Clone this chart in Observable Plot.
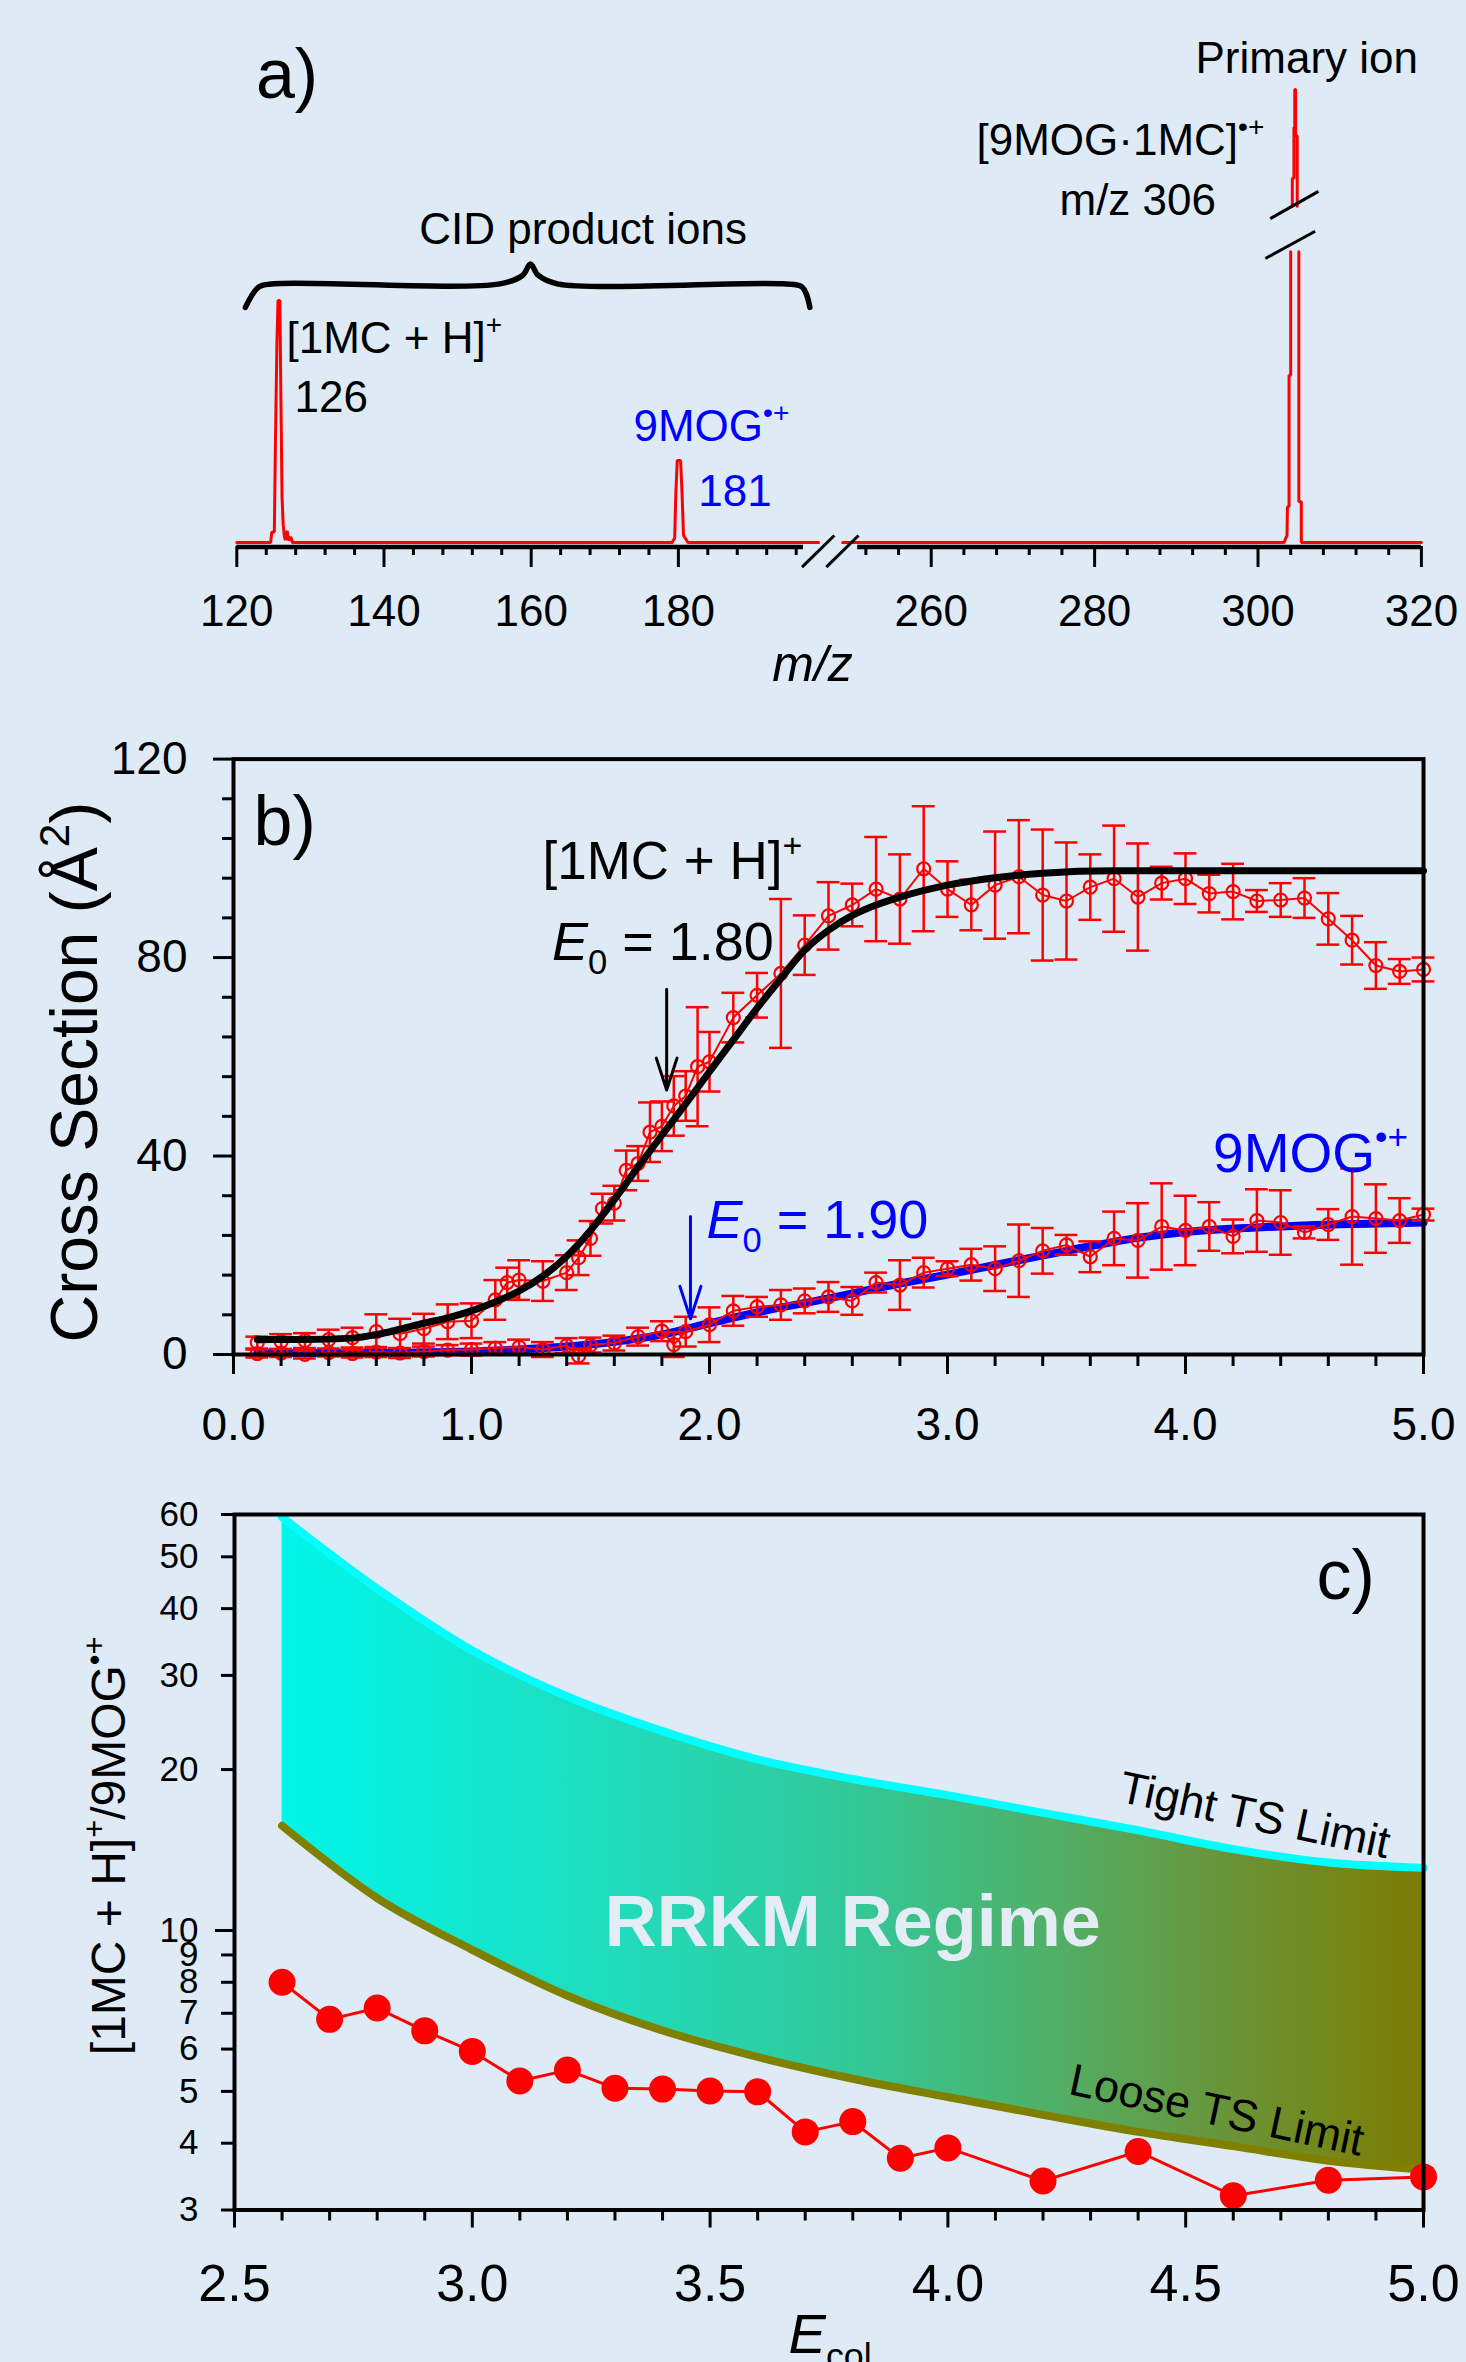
<!DOCTYPE html>
<html><head><meta charset="utf-8">
<script src="https://cdn.jsdelivr.net/npm/d3@7"></script>
<script src="https://cdn.jsdelivr.net/npm/@observablehq/plot@0.6"></script>
<style>
html,body{margin:0;padding:0;background:#deebf7;}
#chart{width:1466px;height:2362px;overflow:hidden;background:#deebf7;}
#chart svg{display:block;}
</style></head><body><div id="chart"></div>
<script>
const W = 1466;
const FONT = "'Liberation Sans', Arial, Helvetica, sans-serif";
const RED = "#ff0000", BLUE = "#0000ff";

// ================= Panel a : mass spectrum =================
// broken m/z axis: two segments 120–197 and 251–320
const mzBreakDomain = [120, 197, 251, 320];
const mzBreakRange  = [236.3, 803, 857.2, 1420.9];
const mzMajorTicks = [120,140,160,180,260,280,300,320];
const mzMinorTicks = [124,128,132,136,144,148,152,156,164,168,172,176,184,188,192,196,252,256,264,268,272,276,284,288,292,296,304,308,312,316];
// spectrum trace (m/z, relative intensity, segment)
const specMz  = [120,124.6,124.75,125.1,125.25,125.45,125.6,125.85,126.0,126.15,126.3,126.45,126.6,126.85,127.0,127.35,127.55,179.15,179.5,179.65,179.85,180.3,180.5,180.7,181.0,181.3,212,
                 236,303.2,303.4,303.55,303.6,303.8,303.8,304.0,304.0,
                 304.2,304.2,304.4,304.4,304.5,304.5,304.6,304.6,304.8,304.8,
                 305.0,305.0,305.3,305.3,320];
const specInt = [0,0,2.3,2.3,22,44,53.4,53.4,31,10,4,1.5,0.5,2.6,0.5,1.2,0,0,1,10.8,18.1,18.1,10.8,1.5,0.8,0,0,
                 0,0,1,1.5,7.9,7.9,36.9,36.9,64.2,
                 74.2,80.4,80.4,91.6,91.6,100,100,89.8,89.8,74.2,
                 64.2,9,9,0,0];
const specSeg = [..."LLLLLLLLLLLLLLLLLLLLLLLLLLL", ..."AAAAAAAAA", ..."BBBBBBBBBB", ..."CCCCC"];
const axisSegsA = [{x1:120,x2:197},{x1:251,x2:320}];
const axisBreakA = [{x1:196.8,y1:-5.45,x2:227.7,y2:1.55},{x1:219.7,y1:-5.45,x2:251.1,y2:1.55}];
const peakBreakA = [{x1:301.5,y1:71.5,x2:307.4,y2:77.5},{x1:300.9,y1:62.7,x2:307.0,y2:68.7}];
const braceMz  = [121.17,122.99,125.07,155.75,158.86,159.9,160.94,163.55,194.22,196.82,203.4];
const braceInt = [51.9,56.4,57.1,57.1,59.0,61.5,59.0,57.1,57.1,56.4,51.9];
const annA = [
  {x:122.6,  y:98.2,  t:"a)", size:70, color:"black"},
  {x:292.35, y:103.75,t:"Primary ion", size:44, color:"black"},
  {x:265.54, y:85.65, t:"[9MOG·1MC]^{•+}", size:44, color:"black"},
  {x:275.7,  y:72.2,  t:"m/z 306", size:44, color:"black"},
  {x:144.8,  y:65.8,  t:"CID product ions", size:44, color:"black"},
  {x:126.75, y:41.9,  t:"[1MC + H]^{+}", size:44, color:"black"},
  {x:127.84, y:28.7,  t:"126", size:44, color:"black"},
  {x:173.9,  y:22.5,  t:"9MOG^{•+}", size:44, color:BLUE},
  {x:182.7,  y:7.95,  t:"181", size:44, color:BLUE}
];
const xLabelA = {x:206, y:-30.5, t:"~{m/z}"};

// ================= Panel b : cross sections =================
const eUp = [0.1,0.2,0.3,0.4,0.5,0.6,0.7,0.8,0.9,1.0,1.1,1.15,1.2,1.3,1.4,1.45,1.5,1.55,1.6,1.65,1.7,1.75,1.8,1.85,1.9,1.95,2.0,2.1,2.2,2.3,2.4,2.5,2.6,2.7,2.8,2.9,3.0,3.1,3.2,3.3,3.4,3.5,3.6,3.7,3.8,3.9,4.0,4.1,4.2,4.3,4.4,4.5,4.6,4.7,4.8,4.9,5.0];
const sUp = [2.4,2.6,2.8,3.0,3.4,4.6,4.2,5.2,6.6,6.8,11.0,14.5,15.0,14.8,16.5,19.5,23.4,29.4,30.5,37.1,38.5,44.8,46.0,50.1,52.1,58.0,59.0,67.9,72.4,76.8,82.5,88.4,90.6,93.8,91.8,97.9,93.8,90.6,94.6,96.3,92.6,91.4,94.2,95.9,92.2,95.0,95.9,92.9,93.3,91.4,91.6,92.0,87.8,83.5,78.4,77.2,77.6];
const dUp = [1.2,1.5,1.5,2.0,2.0,3.5,3.0,3.0,3.5,3.5,4.0,3.0,4.0,4.0,3.5,3.5,3.5,3.0,3.5,4.0,3.5,6.0,5.0,6.0,5.0,12.0,6.0,5.0,4.5,15.0,6.0,6.8,4.3,10.5,9.0,12.6,5.6,5.1,10.8,11.4,13.2,11.8,6.6,10.7,10.8,3.3,5.1,3.8,5.6,2.2,3.4,4.0,5.2,4.9,4.7,2.5,2.4];
const eLo = [0.1,0.2,0.3,0.4,0.5,0.6,0.7,0.8,0.9,1.0,1.1,1.2,1.3,1.4,1.45,1.5,1.6,1.7,1.8,1.85,1.9,2.0,2.1,2.2,2.3,2.4,2.5,2.6,2.7,2.8,2.9,3.0,3.1,3.2,3.3,3.4,3.5,3.6,3.7,3.8,3.9,4.0,4.1,4.2,4.3,4.4,4.5,4.6,4.7,4.8,4.9,5.0];
const sLo = [0.2,0.3,0.0,0.4,0.2,0.5,0.3,0.6,0.9,1.0,1.3,1.5,1.0,1.8,-0.3,1.9,2.3,3.6,4.7,2.0,4.6,6.0,8.8,9.6,10.0,10.8,11.6,10.8,14.5,14.0,16.5,17.3,18.1,17.3,18.9,20.9,22.1,19.7,23.4,23.0,25.8,25.0,25.8,23.8,27.0,26.6,24.6,26.2,27.8,27.4,27.0,28.2];
const dLo = [0.8,0.8,0.8,0.8,0.8,1.0,1.0,1.0,1.0,1.2,1.2,1.5,1.5,1.5,1.5,1.5,1.5,1.8,2.0,2.5,3.0,3.5,3.0,2.0,3.0,2.5,3.0,2.8,2.0,5.0,3.0,1.5,3.2,4.5,7.3,4.6,2.0,3.1,5.4,7.5,8.7,7.0,4.9,3.4,6.3,6.5,1.2,3.1,9.7,6.9,4.5,1.2];
const eFitA = [0.1,0.3,0.5,0.6,0.7,0.8,0.9,1.0,1.1,1.2,1.3,1.4,1.5,1.6,1.7,1.8,1.9,2.0,2.1,2.2,2.3,2.4,2.5,2.6,2.7,2.8,3.0,3.2,3.4,3.7,4.0,5.0];
const sFitA = [3.0,3.0,3.3,4.0,5.1,6.3,7.4,8.8,10.6,12.8,15.8,19.8,25.0,31.2,37.8,44.2,50.5,57.0,63.4,69.8,75.8,81.5,85.5,88.5,90.6,92.2,94.6,96.1,97.0,97.5,97.5,97.5];
const eFitB = [0.1,0.5,0.9,1.2,1.5,1.8,2.0,2.2,2.5,2.8,3.0,3.3,3.5,3.8,4.0,4.3,4.5,5.0];
const sFitB = [0.3,0.3,0.5,1.0,2.0,4.0,6.3,8.5,11.3,14.3,16.1,19.0,20.9,23.5,24.7,25.6,26.0,26.6];
const xMajorB = [0,1,2,3,4,5];
const xMinorB = [0.2,0.4,0.6,0.8,1.2,1.4,1.6,1.8,2.2,2.4,2.6,2.8,3.2,3.4,3.6,3.8,4.2,4.4,4.6,4.8];
const yMajorB = [0,40,80,120];
const yMinorB = [8,16,24,32,48,56,64,72,88,96,104,112];
const arrowBlack = [{x:1.82, y1:73.6, y2:53.3}];
const arrowBlue  = [{x:1.92, y1:27.8, y2:7.2}];
const annB = [
  {x:0.084, y:102.6, t:"b)", size:70, color:"black"},
  {x:1.298, y:95.8,  t:"[1MC + H]^{+}", size:53, color:"black"},
  {x:1.338, y:79.6,  t:"~{E}_{0} = 1.80", size:54, color:"black"},
  {x:1.987, y:23.4,  t:"~{E}_{0} = 1.90", size:54, color:BLUE},
  {x:4.116, y:36.7,  t:"9MOG^{•+}", size:55, color:BLUE}
];
const yLabelB = {x:-0.664, y:56.9, t:"Cross Section (Å^{2})"};

// ================= Panel c : branching ratio =================
const eBand = [2.6,2.8,3.0,3.2,3.4,3.6,3.8,4.0,4.2,4.4,4.6,4.8,5.0];
const tight = [59.3,43.6,33.4,27.4,23.6,20.9,19.2,17.9,16.6,15.4,14.2,13.4,13.1];
const loose = [15.7,11.5,9.2,7.55,6.5,5.8,5.28,4.88,4.52,4.2,3.95,3.71,3.57];
const eRatio = [2.6,2.7,2.8,2.9,3.0,3.1,3.2,3.3,3.4,3.5,3.6,3.7,3.8,3.9,4.0,4.2,4.4,4.6,4.8,5.0];
const ratio  = [8.0,6.82,7.16,6.49,5.94,5.23,5.48,5.07,5.05,5.01,4.99,4.20,4.39,3.75,3.92,3.40,3.86,3.19,3.41,3.46];
const xMajorC = [2.5,3.0,3.5,4.0,4.5,5.0];
const xMinorC = [2.6,2.7,2.8,2.9,3.1,3.2,3.3,3.4,3.6,3.7,3.8,3.9,4.1,4.2,4.3,4.4,4.6,4.7,4.8,4.9];
const yTicksC = [3,4,5,6,7,8,9,10,20,30,40,50,60];
const gradStops = [
  {o:0.00, c:"#00f6ea"}, {o:0.29, c:"#20dcbc"}, {o:0.50, c:"#32c898"},
  {o:0.67, c:"#50b068"}, {o:0.83, c:"#6a9438"}, {o:1.00, c:"#7c7c00"}
];
const annC = [
  {x:4.775, y:41.7, t:"c)", size:70, color:"black"}
];
const rrkmLabel  = {x:3.80,  y:9.36,  t:"RRKM Regime"};
const tightLabel = {x:4.645, y:16.4,  t:"Tight TS Limit"};
const looseLabel = {x:4.565, y:4.6,   t:"Loose TS Limit"};
const yLabelC = {x:2.238, y:14.4, t:"[1MC + H]^{+}/9MOG^{•+}"};
const xLabelC = {x:3.665, y:1.617, t:"~{E}_{col}"};

// ---------- helpers ----------
const zip2 = (xs, ys, extra = {}) => xs.map((x, i) => ({x, y: ys[i], ...Object.fromEntries(Object.entries(extra).map(([k, v]) => [k, v[i]]))}));
const texts = (items, opts = {}) => items.map(d => Plot.text([d], {x:"x", y:"y", text:"t", fontSize:d.size, fill:d.color, textAnchor:"start", lineAnchor:"bottom", ...opts}));

function parseRich(s) {
  const out = []; let i = 0, buf = "";
  while (i < s.length) {
    const c = s[i];
    if ((c === "^" || c === "_" || c === "~") && s[i+1] === "{") {
      if (buf) { out.push({t: buf, k: "n"}); buf = ""; }
      const j = s.indexOf("}", i + 2);
      out.push({t: s.slice(i + 2, j), k: c});
      i = j + 1;
    } else { buf += c; i++; }
  }
  if (buf) out.push({t: buf, k: "n"});
  return out;
}
function richify(svg) {
  d3.select(svg).selectAll("text").each(function() {
    const el = this, s = el.textContent;
    if (!/[\^_~]\{/.test(s)) return;
    const segs = parseRich(s);
    while (el.firstChild) el.removeChild(el.firstChild);
    let cur = 0;
    for (const seg of segs) {
      const ts = document.createElementNS("http://www.w3.org/2000/svg", "tspan");
      let target = 0, scale = 1;
      if (seg.k === "^") { target = -0.42; scale = 0.64; }
      else if (seg.k === "_") { target = 0.26; scale = 0.64; }
      if (scale !== 1) ts.setAttribute("font-size", (scale * 100) + "%");
      if (seg.k === "~") ts.setAttribute("font-style", "italic");
      const d = target - cur;
      if (Math.abs(d) > 1e-9) ts.setAttribute("dy", (d / scale).toFixed(3) + "em");
      cur = target;
      ts.textContent = seg.t;
      el.appendChild(ts);
    }
  });
}
const baseStyle = {background: "transparent", fontFamily: FONT, color: "black", overflow: "visible"};

// ================= build panel a =================
const U = d3.scaleLinear().domain(mzBreakDomain).range(mzBreakRange); // broken-axis mapping of m/z
const spec = specMz.map((m, i) => ({m, v: specInt[i], s: specSeg[i]}));
const brace = zip2(braceMz, braceInt);
const plotA = Plot.plot({
  width: W, height: 700,
  marginTop: 0, marginLeft: mzBreakRange[0], marginRight: W - mzBreakRange[3], marginBottom: 154,
  style: baseStyle,
  x: {domain: [mzBreakRange[0], mzBreakRange[3]]},
  y: {domain: [0, 100], range: [542, 89], axis: null},
  marks: [
    Plot.ruleY(axisSegsA, {y: 0, x1: d => U(d.x1), x2: d => U(d.x2), dy: 4.5, stroke: "black", strokeWidth: 4.5}),
    Plot.axisX(mzMinorTicks.map(U), {anchor: "bottom", tickSize: 9, strokeWidth: 3, tickFormat: () => "", label: null}),
    Plot.axisX(mzMajorTicks.map(U), {anchor: "bottom", tickSize: 21, tickPadding: 27, strokeWidth: 3, fontSize: 44, tickFormat: u => String(Math.round(U.invert(u))), label: null}),
    Plot.line(spec, {x: d => U(d.m), y: "v", z: "s", stroke: RED, strokeWidth: 3, strokeLinejoin: "miter"}),
    Plot.link(axisBreakA, {x1: d => U(d.x1), y1: "y1", x2: d => U(d.x2), y2: "y2", stroke: "black", strokeWidth: 3}),
    Plot.link(peakBreakA, {x1: d => U(d.x1), y1: "y1", x2: d => U(d.x2), y2: "y2", stroke: "black", strokeWidth: 3}),
    Plot.line(brace, {x: d => U(d.x), y: "y", curve: "catmull-rom", stroke: "black", strokeWidth: 5.5, strokeLinecap: "round"}),
    ...annA.map(d => Plot.text([d], {x: e => U(e.x), y: "y", text: "t", fontSize: d.size, fill: d.color, textAnchor: "start", lineAnchor: "bottom"})),
    Plot.text([xLabelA], {x: d => U(d.x), y: "y", text: "t", fontSize: 50, textAnchor: "middle", lineAnchor: "bottom", fill: "black"})
  ]
});

// ================= build panel b =================
const up = zip2(eUp, sUp, {d: dUp});
const lo = zip2(eLo, sLo, {d: dLo});
const fitA = zip2(eFitA, sFitA);
const fitB = zip2(eFitB, sFitB);
const CAP = 0.048;
const errMarks = (data) => [
  Plot.ruleX(data, {x: "x", y1: d => d.y - d.d, y2: d => d.y + d.d, stroke: RED, strokeWidth: 2.5}),
  Plot.ruleY(data, {y: d => d.y + d.d, x1: d => d.x - CAP, x2: d => d.x + CAP, stroke: RED, strokeWidth: 2.5}),
  Plot.ruleY(data, {y: d => d.y - d.d, x1: d => d.x - CAP, x2: d => d.x + CAP, stroke: RED, strokeWidth: 2.5}),
  Plot.line(data, {x: "x", y: "y", stroke: RED, strokeWidth: 2}),
  Plot.dot(data, {x: "x", y: "y", r: 6.5, stroke: RED, strokeWidth: 2.2, fill: "none"})
];
const plotB = Plot.plot({
  width: W, height: 760,
  marginLeft: 233, marginRight: 43, marginTop: 58.6, marginBottom: 106,
  style: baseStyle,
  x: {domain: [0, 5]},
  y: {domain: [0, 120]},
  marks: [
    ...errMarks(up),
    Plot.line(fitB, {x: "x", y: "y", curve: "monotone-x", stroke: BLUE, strokeWidth: 8}),
    ...errMarks(lo),
    Plot.line(fitA, {x: "x", y: "y", curve: "monotone-x", stroke: "black", strokeWidth: 7}),
    Plot.arrow(arrowBlack, {x: "x", y1: "y1", y2: "y2", stroke: "black", strokeWidth: 3, headLength: 18, headAngle: 36}),
    Plot.arrow(arrowBlue, {x: "x", y1: "y1", y2: "y2", stroke: BLUE, strokeWidth: 3, headLength: 18, headAngle: 36}),
    Plot.frame({stroke: "black", strokeWidth: 4}),
    Plot.axisX(xMinorB, {anchor: "bottom", tickSize: 12, strokeWidth: 3, tickFormat: () => "", label: null}),
    Plot.axisX(xMajorB, {anchor: "bottom", tickSize: 20, tickPadding: 33, strokeWidth: 3, fontSize: 46, tickFormat: d3.format(".1f"), label: null}),
    Plot.axisY(yMinorB, {anchor: "left", tickSize: 11, strokeWidth: 3, tickFormat: () => "", label: null}),
    Plot.axisY(yMajorB, {anchor: "left", tickSize: 20, tickPadding: 26, strokeWidth: 3, fontSize: 46, tickFormat: d => String(d), label: null}),
    ...texts(annB),
    Plot.text([yLabelB], {x: "x", y: "y", text: "t", fontSize: 66, rotate: -90, textAnchor: "middle", lineAnchor: "middle", fill: "black"})
  ]
});

// ================= build panel c =================
const band = eBand.map((x, i) => ({x, t: tight[i], l: loose[i]}));
const rat = zip2(eRatio, ratio);
const plotC = Plot.plot({
  width: W, height: 902,
  marginLeft: 234, marginRight: 43, marginTop: 54, marginBottom: 152.5,
  style: baseStyle,
  x: {domain: [2.5, 5]},
  y: {type: "log", domain: [3, 60]},
  marks: [
    Plot.areaY(band, {x: "x", y1: "l", y2: "t", curve: "monotone-x", fill: "url(#rrkmGrad)"}),
    Plot.line(band, {x: "x", y: "t", curve: "monotone-x", stroke: "#00ffff", strokeWidth: 8, strokeLinecap: "round"}),
    Plot.line(band, {x: "x", y: "l", curve: "monotone-x", stroke: "#808000", strokeWidth: 8, strokeLinecap: "round"}),
    Plot.line(rat, {x: "x", y: "y", stroke: RED, strokeWidth: 3}),
    Plot.dot(rat, {x: "x", y: "y", r: 13.5, fill: RED}),
    Plot.frame({stroke: "black", strokeWidth: 4}),
    Plot.axisX(xMinorC, {anchor: "bottom", tickSize: 11, strokeWidth: 3, tickFormat: () => "", label: null}),
    Plot.axisX(xMajorC, {anchor: "bottom", tickSize: 18, tickPadding: 36, strokeWidth: 3, fontSize: 52, tickFormat: d3.format(".1f"), label: null}),
    Plot.axisY([10], {anchor: "left", tickSize: 19, strokeWidth: 3, tickFormat: () => "", label: null}),
    Plot.axisY(yTicksC, {anchor: "left", tickSize: 13, tickPadding: 23, strokeWidth: 3, fontSize: 35, tickFormat: d => String(d), label: null}),
    ...texts(annC),
    Plot.text([rrkmLabel], {x: "x", y: "y", text: "t", fontSize: 72, fontWeight: "bold", fill: "#e4edf6", textAnchor: "middle", lineAnchor: "bottom"}),
    Plot.text([tightLabel], {x: "x", y: "y", text: "t", fontSize: 45, rotate: 12, fill: "black", textAnchor: "middle", lineAnchor: "middle"}),
    Plot.text([looseLabel], {x: "x", y: "y", text: "t", fontSize: 45, rotate: 12, fill: "black", textAnchor: "middle", lineAnchor: "middle"}),
    Plot.text([yLabelC], {x: "x", y: "y", text: "t", fontSize: 48, rotate: -90, textAnchor: "middle", lineAnchor: "middle", fill: "black"}),
    Plot.text([xLabelC], {x: "x", y: "y", text: "t", fontSize: 56, textAnchor: "start", lineAnchor: "bottom", fill: "black"})
  ]
});
// gradient definition for the RRKM band, positioned with the x scale
{
  const xs = plotC.scale("x");
  const defs = d3.select(plotC).insert("defs", ":first-child");
  const g = defs.append("linearGradient").attr("id", "rrkmGrad").attr("gradientUnits", "userSpaceOnUse")
    .attr("x1", xs.apply(eBand[0])).attr("x2", xs.apply(eBand[eBand.length - 1])).attr("y1", 0).attr("y2", 0);
  gradStops.forEach(s => g.append("stop").attr("offset", s.o).attr("stop-color", s.c));
}

[plotA, plotB, plotC].forEach(p => { richify(p); document.getElementById("chart").appendChild(p); });
</script></body></html>
